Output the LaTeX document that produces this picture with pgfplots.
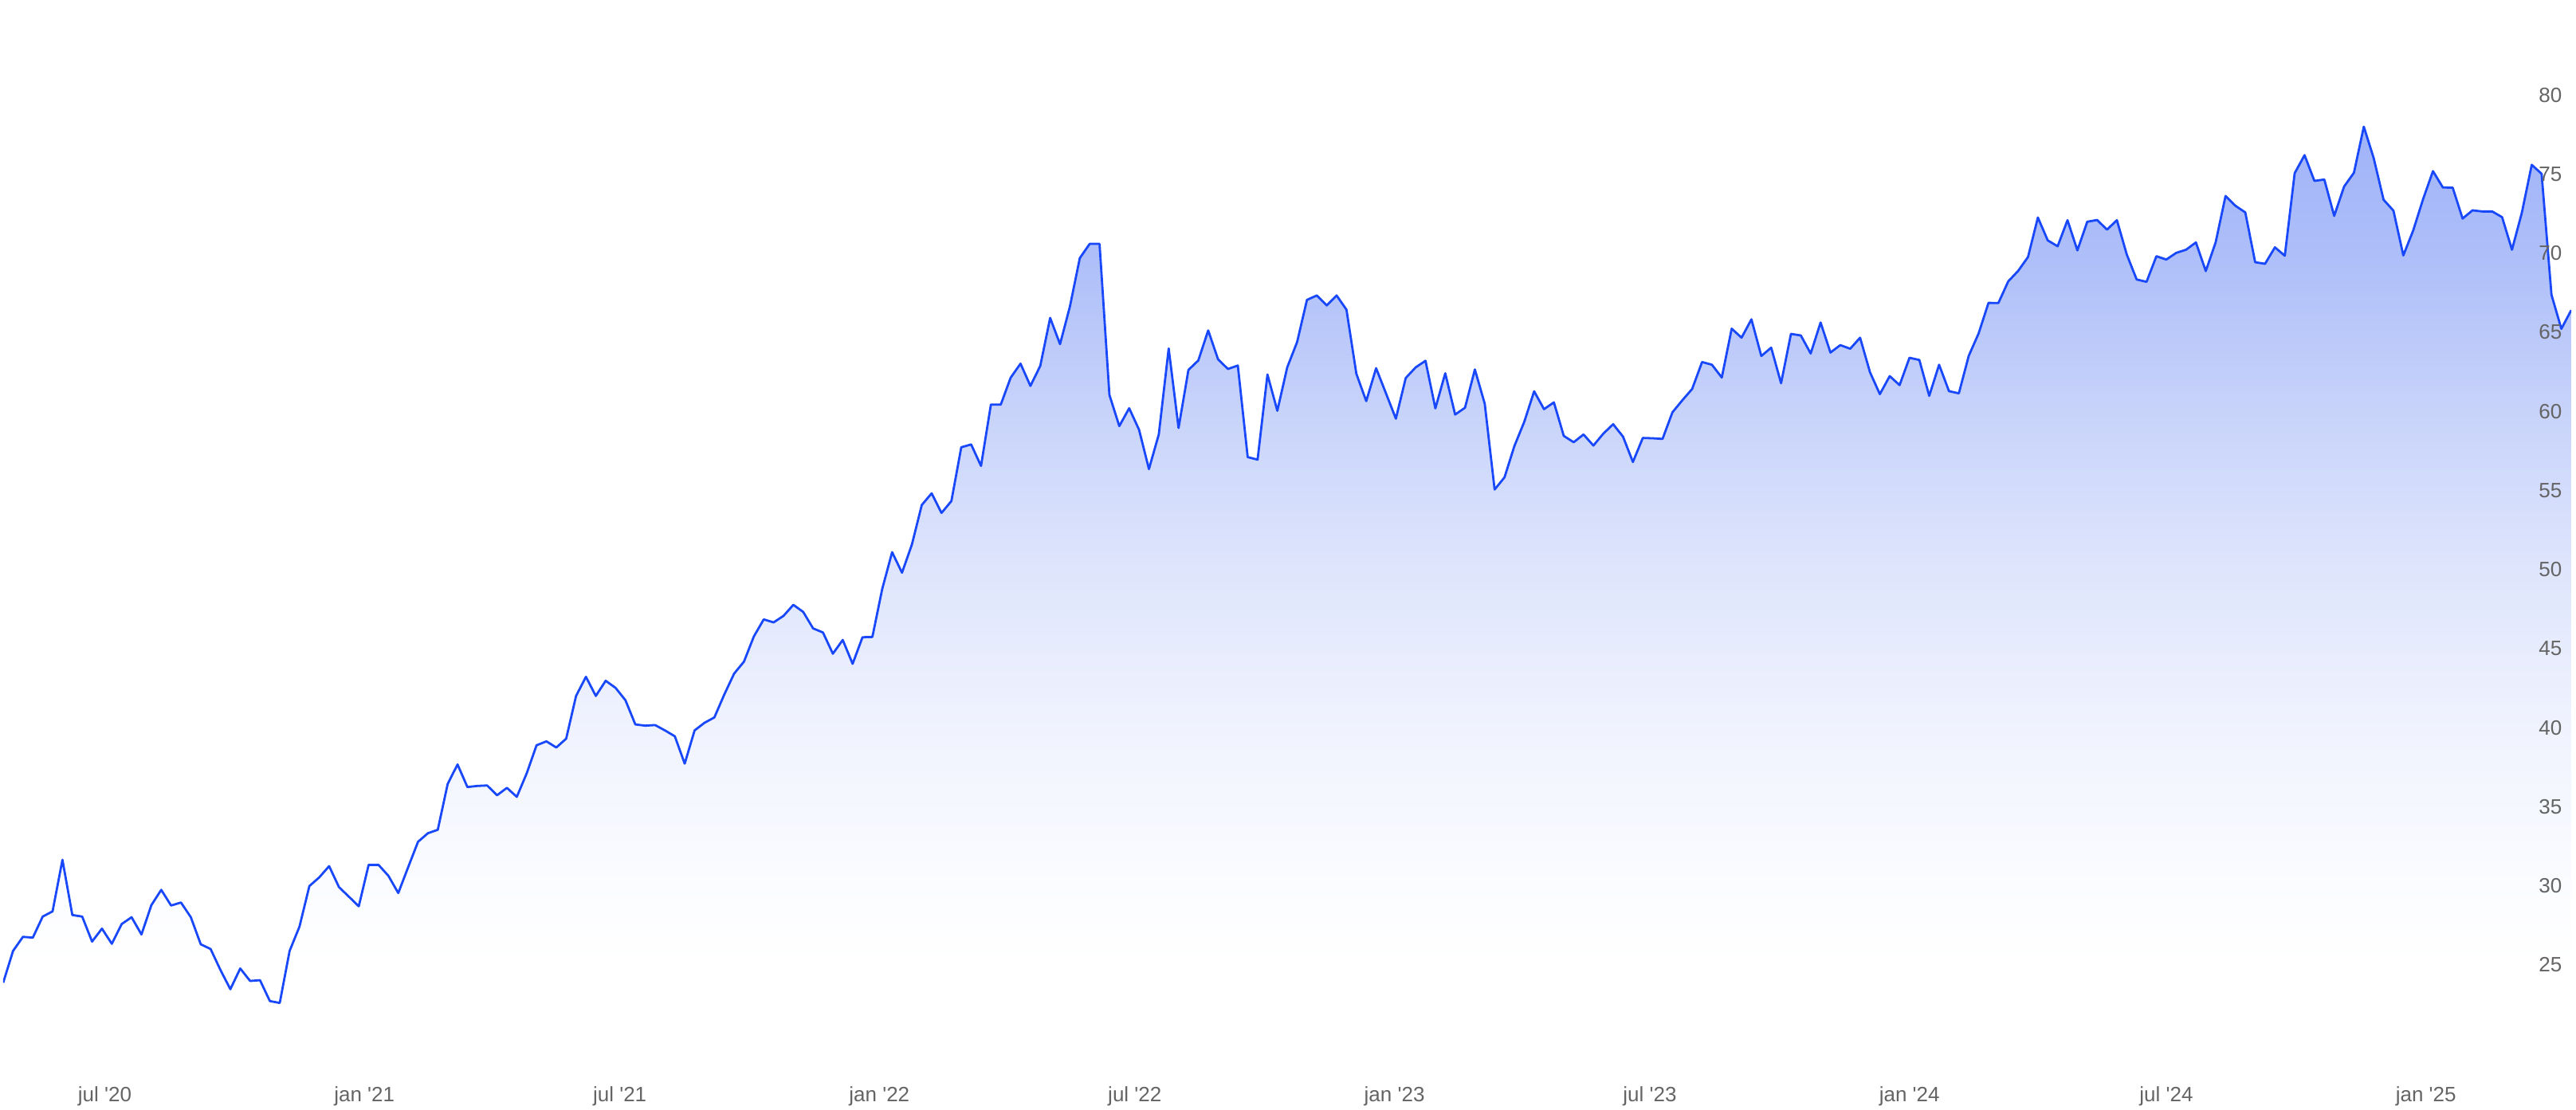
\documentclass[border=0pt]{standalone}
\usepackage{pgfplots}
\pgfplotsset{compat=1.18}
\usepackage{pgfplotstable}
\usepackage{fontspec}
\setmainfont{Liberation Sans}
\definecolor{lineblue}{RGB}{24,72,250}
\definecolor{tickgray}{RGB}{100,100,100}
\definecolor{s78}{RGB}{160,179,248}
\definecolor{s70}{RGB}{173,190,249}
\definecolor{s60}{RGB}{200,211,250}
\definecolor{s50}{RGB}{222,229,252}
\definecolor{s40}{RGB}{240,243,254}
\definecolor{s30}{RGB}{251,252,255}
\pgfdeclareverticalshading{areafill}{100bp}{color(0bp)=(white); color(29.7bp)=(white); color(34bp)=(s30); color(42.5bp)=(s40); color(51.1bp)=(s50); color(59.6bp)=(s60); color(68.2bp)=(s70); color(75bp)=(s78); color(100bp)=(s78)}

\pgfplotstableread{
k v
0 23.88
1 25.89
2 26.78
3 26.73
4 28.06
5 28.39
6 31.65
7 28.16
8 28.06
9 26.48
10 27.30
11 26.34
12 27.59
13 28.02
14 26.93
15 28.78
16 29.75
17 28.76
18 28.95
19 28.02
20 26.31
21 26.01
22 24.68
23 23.47
24 24.78
25 23.99
26 24.04
27 22.72
28 22.60
29 25.89
30 27.43
31 29.99
32 30.54
33 31.25
34 29.92
35 29.32
36 28.71
37 31.33
38 31.33
39 30.64
40 29.55
41 31.18
42 32.79
43 33.33
44 33.55
45 36.44
46 37.68
47 36.25
48 36.32
49 36.35
50 35.73
51 36.20
52 35.63
53 37.11
54 38.89
55 39.14
56 38.75
57 39.31
58 42.01
59 43.22
60 42.01
61 42.97
62 42.52
63 41.74
64 40.21
65 40.13
66 40.17
67 39.83
68 39.46
69 37.73
70 39.83
71 40.31
72 40.65
73 42.09
74 43.42
75 44.18
76 45.77
77 46.85
78 46.66
79 47.07
80 47.77
81 47.32
82 46.28
83 46.02
84 44.68
85 45.55
86 44.04
87 45.72
88 45.74
89 48.78
90 51.10
91 49.80
92 51.58
93 54.08
94 54.82
95 53.58
96 54.33
97 57.73
98 57.91
99 56.55
100 60.43
101 60.43
102 62.13
103 63.02
104 61.61
105 62.88
106 65.91
107 64.25
108 66.63
109 69.69
110 70.59
111 70.59
112 61.04
113 59.07
114 60.20
115 58.84
116 56.35
117 58.55
118 63.98
119 58.95
120 62.62
121 63.22
122 65.12
123 63.29
124 62.68
125 62.90
126 57.11
127 56.95
128 62.33
129 60.04
130 62.78
131 64.38
132 67.05
133 67.33
134 66.70
135 67.33
136 66.43
137 62.38
138 60.65
139 62.73
140 61.14
141 59.54
142 62.11
143 62.78
144 63.20
145 60.19
146 62.41
147 59.80
148 60.23
149 62.65
150 60.48
151 55.06
152 55.83
153 57.81
154 59.34
155 61.27
156 60.14
157 60.57
158 58.45
159 58.05
160 58.54
161 57.84
162 58.59
163 59.19
164 58.40
165 56.80
166 58.32
167 58.30
168 58.26
169 59.94
170 60.70
171 61.42
172 63.12
173 62.95
174 62.14
175 65.23
176 64.66
177 65.82
178 63.50
179 64.03
180 61.78
181 64.90
182 64.80
183 63.66
184 65.62
185 63.72
186 64.19
187 63.96
188 64.66
189 62.48
190 61.09
191 62.23
192 61.66
193 63.39
194 63.25
195 60.98
196 62.95
197 61.28
198 61.14
199 63.51
200 64.93
201 66.86
202 66.85
203 68.22
204 68.88
205 69.76
206 72.26
207 70.81
208 70.44
209 72.09
210 70.18
211 71.99
212 72.10
213 71.49
214 72.09
215 69.92
216 68.34
217 68.19
218 69.81
219 69.60
220 70.02
221 70.22
222 70.68
223 68.87
224 70.69
225 73.62
226 73.00
227 72.58
228 69.43
229 69.33
230 70.37
231 69.84
232 75.06
233 76.20
234 74.57
235 74.66
236 72.36
237 74.21
238 75.09
239 78.00
240 76.01
241 73.38
242 72.69
243 69.86
244 71.44
245 73.42
246 75.19
247 74.16
248 74.14
249 72.19
250 72.71
251 72.64
252 72.64
253 72.28
254 70.22
255 72.56
256 75.59
257 75.02
258 67.37
259 65.22
260 66.40
}\datatable

\begin{document}
\begin{tikzpicture}
\begin{axis}[
  scale only axis,
  width=805.5pt, height=330pt,
  xmin=0, xmax=260, ymin=19.51, ymax=86.01,
  axis on top,
  axis line style={draw=none},
  major tick length=0pt,
  xtick={10.29,36.57,62.43,88.71,114.57,140.86,166.71,193.0,219.0,245.29},
  xticklabels={jul \textquotesingle20,jan \textquotesingle21,jul \textquotesingle21,jan \textquotesingle22,jul \textquotesingle22,jan \textquotesingle23,jul \textquotesingle23,jan \textquotesingle24,jul \textquotesingle24,jan \textquotesingle25},
  ytick={25,30,35,40,45,50,55,60,65,70,75,80},
  yticklabel pos=right,
  /pgf/number format/assume math mode=true,
  ticklabel style={font=\fontsize{6.5}{7.5}\selectfont, text=tickgray},
  xticklabel style={anchor=north, inner sep=0pt, yshift=-10.75pt},
  yticklabel style={anchor=east, inner sep=0pt, xshift=-2.75pt},
]
\addplot[draw=none, shade, shading=areafill] table[x=k,y=v] {\datatable} -- (axis cs:260,19.51) -- (axis cs:0,19.51) -- cycle;
\addplot[lineblue, line width=0.7pt, line join=round, mark=none] table[x=k,y=v] {\datatable};
\end{axis}
\pgfresetboundingbox
\path[use as bounding box] ([xshift=-1pt,yshift=-18pt]current axis.south west) rectangle ([xshift=1.5pt]current axis.north east);
\end{tikzpicture}
\end{document}
